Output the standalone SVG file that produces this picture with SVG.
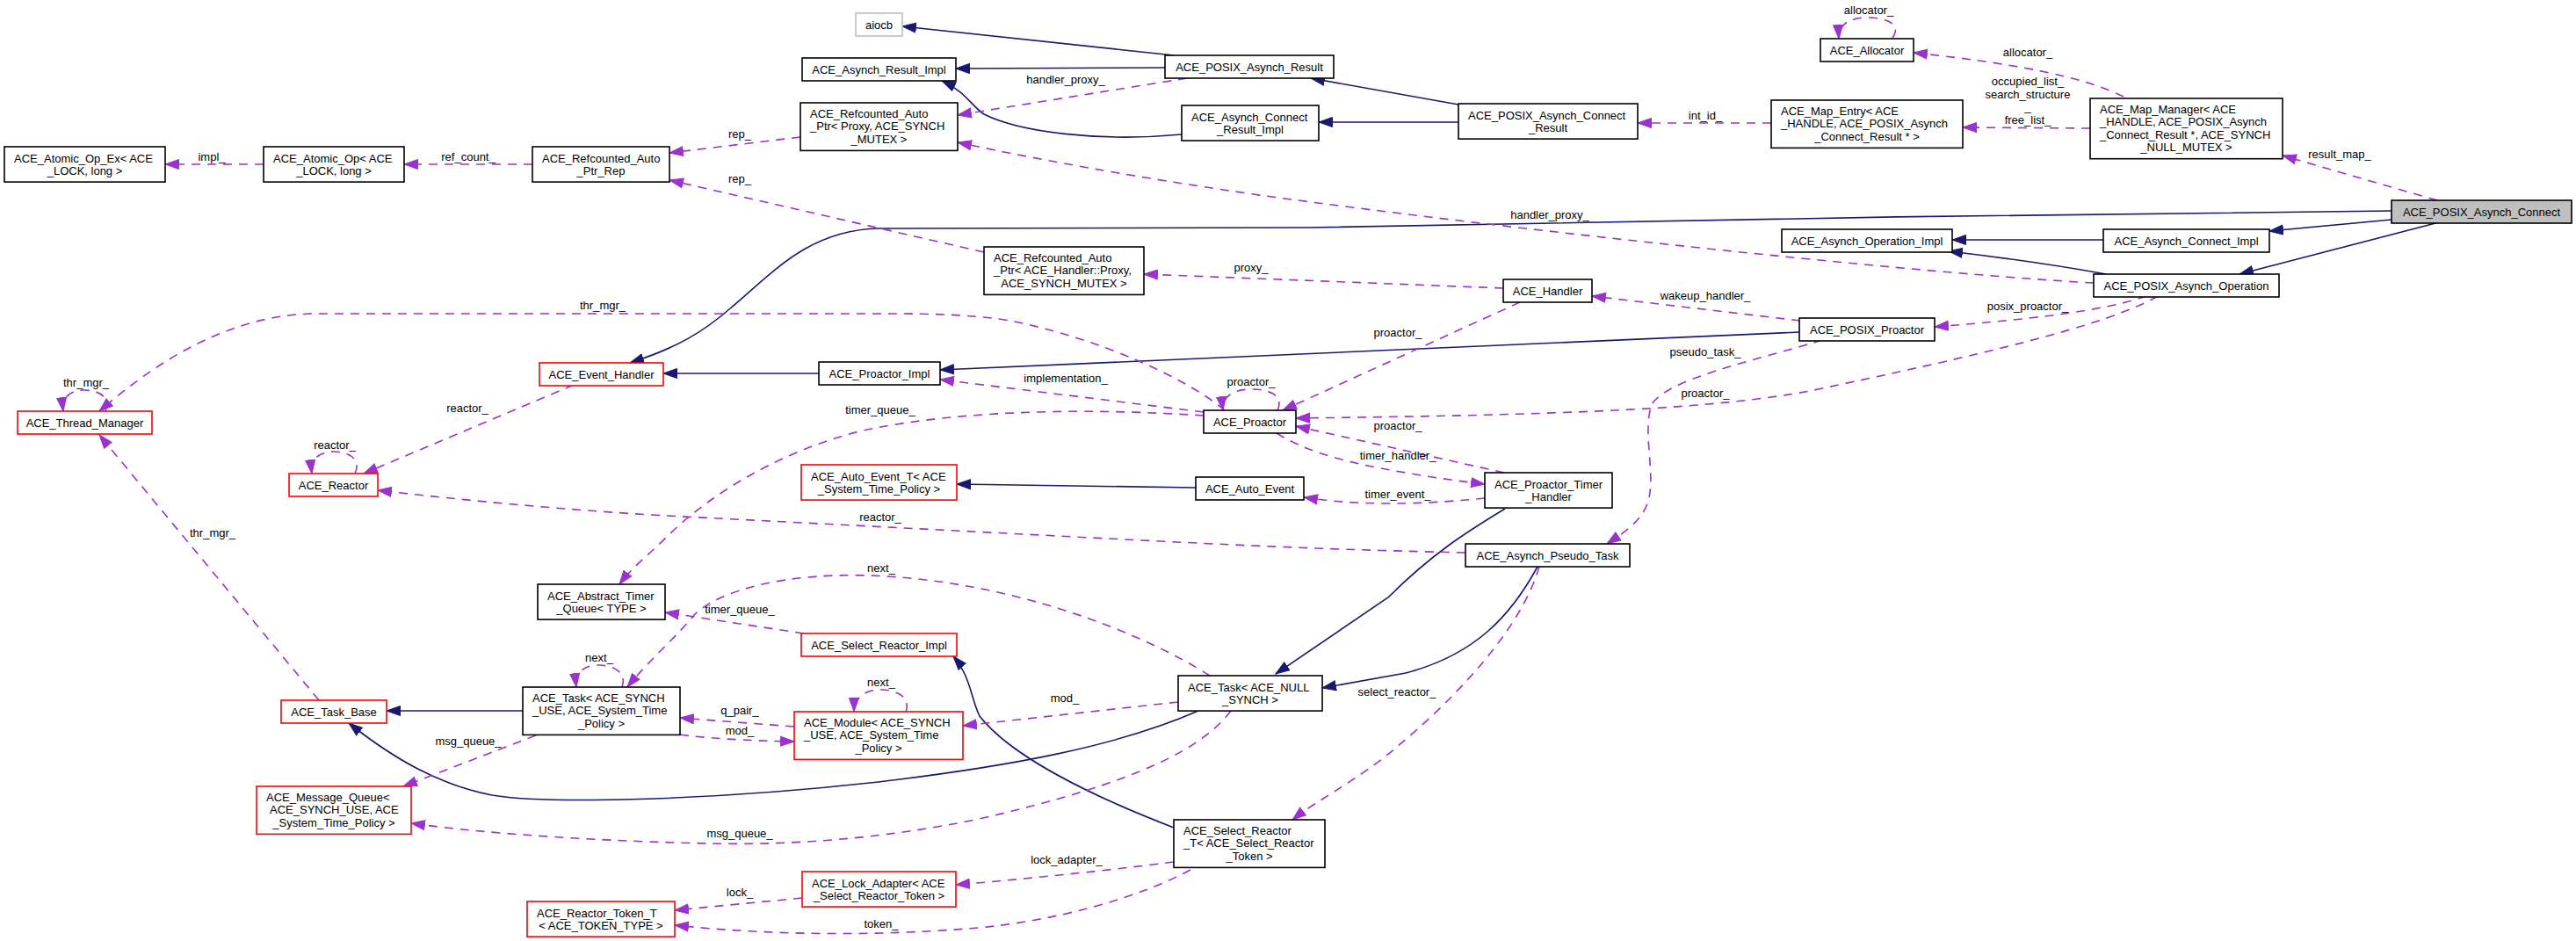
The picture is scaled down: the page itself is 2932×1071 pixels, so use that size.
<svg xmlns="http://www.w3.org/2000/svg" width="2932" height="1071" viewBox="0 0 2932 1071">
<style>
text{font-family:"Liberation Sans",Arial,Helvetica,sans-serif;font-size:13px;fill:#000}
.node rect{fill:#fff;stroke:#000;stroke-width:1.6}
.red rect{stroke:#f00}
.grey rect{stroke:#bfbfbf}
.main rect{fill:#bfbfbf}
.c{text-anchor:middle}
.inh{fill:none;stroke:#191970;stroke-width:1.6;marker-end:url(#ai)}
.use{fill:none;stroke:#9a32cd;stroke-width:1.6;stroke-dasharray:10 8;marker-end:url(#au)}
.el{text-anchor:middle}
</style>
<defs>
<marker id="ai" markerUnits="userSpaceOnUse" markerWidth="17" markerHeight="13" refX="16" refY="6.5" orient="auto"><path d="M0.5,1 L16,6.5 L0.5,12 z" fill="#191970" stroke="#191970" stroke-width="1"/></marker>
<marker id="au" markerUnits="userSpaceOnUse" markerWidth="17" markerHeight="13" refX="16" refY="6.5" orient="auto"><path d="M0.5,1 L16,6.5 L0.5,12 z" fill="#9a32cd" stroke="#9a32cd" stroke-width="1"/></marker>
</defs>
<rect width="2932" height="1071" fill="#fff"/>

<g id="connectors">
<path class="inh" d="M1336,63 L1027,30"/>
<path class="inh" d="M1326,77 L1088,78"/>
<path class="inh" d="M1345,153 C1250,162 1160,150 1120,130 C1105,120 1100,105 1072,92"/>
<path class="inh" d="M1660,119 L1492,89"/>
<path class="inh" d="M1660,139 L1501,139"/>
<path class="inh" d="M2722,240 C2400,242 1700,254 1490,259 L1000,260 C920,262 880,310 830,352 C800,378 770,396 717,413"/>
<path class="inh" d="M2722,250 L2583,263"/>
<path class="inh" d="M2776,253 L2549,312"/>
<path class="inh" d="M2394,273 L2222,273"/>
<path class="inh" d="M2397,312 C2330,300 2270,292 2218,286"/>
<path class="inh" d="M932,425 L755,425"/>
<path class="inh" d="M2048,378 L1070,421"/>
<path class="inh" d="M1361,555 L1089,551"/>
<path class="inh" d="M1713,579 C1670,605 1630,630 1580,680 L1452,767"/>
<path class="inh" d="M1750,645 C1720,700 1680,745 1600,766 L1505,783"/>
<path class="inh" d="M595,809 L440,809"/>
<path class="inh" d="M1364,809 C1270,850 1150,872 1000,890 C800,912 620,915 560,905 C500,893 450,865 397,823"/>
<path class="inh" d="M1336,942 C1240,905 1150,860 1115,815 C1105,795 1105,770 1085,747"/>

<path class="use" d="M300,187 L188,187"/>
<path class="use" d="M606,187 L460,187"/>
<path class="use" d="M911,156 L762,174"/>
<path class="use" d="M1120,287 L762,205"/>
<path class="use" d="M1351,89 L1090,131"/>
<path class="use" d="M2383,322 C2200,312 1800,270 1500,231 C1300,205 1150,175 1090,162"/>
<path class="use" d="M2016,140 L1864,140"/>
<path class="use" d="M2417,110 C2380,92 2320,75 2178,60"/>
<path class="use" d="M2154,43 C2165,28 2148,20 2125,20 C2105,20 2092,28 2093,44"/>
<path class="use" d="M2379,146 L2234,145"/>
<path class="use" d="M2774,228 L2598,177"/>
<path class="use" d="M1711,328 L1302,312"/>
<path class="use" d="M2049,365 L1812,337"/>
<path class="use" d="M2443,337 C2400,352 2330,362 2202,372"/>
<path class="use" d="M2456,337 C2400,370 2250,405 2060,445 C1950,465 1800,472 1475,476"/>
<path class="use" d="M1730,344 L1460,467"/>
<path class="use" d="M1454,467 C1462,450 1445,443 1424,443 C1405,443 1390,451 1392,467"/>
<path class="use" d="M1394,467 C1350,430 1250,385 1150,365 C1100,357 1050,357 1000,357 L354,357 C260,360 180,410 113,468"/>
<path class="use" d="M120,468 C127,452 112,444 96,444 C80,444 70,452 72,468"/>
<path class="use" d="M363,797 L113,495"/>
<path class="use" d="M653,438 L414,539"/>
<path class="use" d="M404,539 C412,522 396,514 380,514 C364,514 353,522 355,539"/>
<path class="use" d="M1668,629 C1550,626 1500,625 1300,615 L740,586 C600,577 500,566 430,558"/>
<path class="use" d="M1370,469 L1070,432"/>
<path class="use" d="M1370,473 C1250,465 1100,465 982,490 C880,515 800,570 760,610 C740,630 720,645 705,665"/>
<path class="use" d="M1453,493 C1480,510 1520,525 1600,538 C1640,545 1665,548 1690,551"/>
<path class="use" d="M1712,538 L1475,485"/>
<path class="use" d="M1690,567 C1640,572 1560,578 1484,566"/>
<path class="use" d="M2074,387 C2000,410 1900,430 1880,460 C1870,490 1882,530 1878,560 C1875,590 1850,605 1829,619"/>
<path class="use" d="M915,721 L757,697"/>
<path class="use" d="M1377,769 C1300,720 1150,660 988,655 C900,652 820,670 790,700 C770,725 740,750 714,782"/>
<path class="use" d="M708,782 C714,765 698,757 681,757 C665,757 654,765 656,782"/>
<path class="use" d="M610,837 L459,895"/>
<path class="use" d="M1401,809 C1370,850 1300,890 1110,933 C1000,955 900,962 810,960 C700,958 560,950 468,937"/>
<path class="use" d="M904,827 L774,817"/>
<path class="use" d="M774,836 C800,840 850,843 904,844"/>
<path class="use" d="M1031,810 C1037,793 1020,785 1003,785 C986,785 972,793 972,810"/>
<path class="use" d="M1341,799 L1096,826"/>
<path class="use" d="M1752,645 C1730,720 1650,800 1590,850 C1550,885 1500,910 1471,933"/>
<path class="use" d="M1336,981 C1250,992 1150,1002 1088,1007"/>
<path class="use" d="M913,1022 L768,1036"/>
<path class="use" d="M1355,990 C1300,1020 1200,1050 1100,1057 C1000,1065 880,1065 768,1053"/>

<text class="el" x="241" y="183">impl_</text>
<text class="el" x="533" y="183">ref_count_</text>
<text class="el" x="842" y="157">rep_</text>
<text class="el" x="842" y="208">rep_</text>
<text class="el" x="1213" y="95">handler_proxy_</text>
<text class="el" x="1764" y="249">handler_proxy_</text>
<text class="el" x="1941" y="136">int_id_</text>
<text class="el" x="2308" y="64">allocator_</text>
<text class="el" x="2127" y="16">allocator_</text>
<text class="el" x="2308" y="97">occupied_list_</text>
<text class="el" x="2308" y="111.5">search_structure</text>
<text class="el" x="2308" y="126">_</text>
<text class="el" x="2308" y="140.5">free_list_</text>
<text class="el" x="2663" y="180">result_map_</text>
<text class="el" x="1424" y="309">proxy_</text>
<text class="el" x="1941" y="341">wakeup_handler_</text>
<text class="el" x="2308" y="353">posix_proactor_</text>
<text class="el" x="1941" y="452">proactor_</text>
<text class="el" x="1591" y="383">proactor_</text>
<text class="el" x="1424" y="439">proactor_</text>
<text class="el" x="686" y="352">thr_mgr_</text>
<text class="el" x="98" y="440">thr_mgr_</text>
<text class="el" x="242" y="611">thr_mgr_</text>
<text class="el" x="532" y="469">reactor_</text>
<text class="el" x="381" y="511">reactor_</text>
<text class="el" x="1002" y="593">reactor_</text>
<text class="el" x="1213" y="435">implementation_</text>
<text class="el" x="1002" y="471">timer_queue_</text>
<text class="el" x="1591" y="523">timer_handler_</text>
<text class="el" x="1591" y="489">proactor_</text>
<text class="el" x="1591" y="567">timer_event_</text>
<text class="el" x="1941" y="405">pseudo_task_</text>
<text class="el" x="842" y="698">timer_queue_</text>
<text class="el" x="1003" y="651">next_</text>
<text class="el" x="682" y="753">next_</text>
<text class="el" x="533" y="848">msg_queue_</text>
<text class="el" x="842" y="953">msg_queue_</text>
<text class="el" x="842" y="813">q_pair_</text>
<text class="el" x="842" y="836">mod_</text>
<text class="el" x="1003" y="781">next_</text>
<text class="el" x="1212" y="799">mod_</text>
<text class="el" x="1590" y="792">select_reactor_</text>
<text class="el" x="1214" y="983">lock_adapter_</text>
<text class="el" x="842" y="1020">lock_</text>
<text class="el" x="1003" y="1056">token_</text>
</g>

<g id="n_aiocb" class="node grey"><rect x="974" y="15" width="53" height="26"/><text class="c" x="1000.5" y="32.6">aiocb</text></g>
<g id="n_asynch_result_impl" class="node"><rect x="913" y="66" width="175" height="26"/><text class="c" x="1000.5" y="83.6">ACE_Asynch_Result_Impl</text></g>
<g id="n_posix_asynch_result" class="node"><rect x="1326" y="63" width="192" height="26"/><text class="c" x="1422" y="80.6">ACE_POSIX_Asynch_Result</text></g>
<g id="n_refcounted_proxy" class="node"><rect x="911" y="117" width="179" height="54.4"/><text x="922" y="134.1">ACE_Refcounted_Auto</text><text x="922" y="148.4">_Ptr&lt; Proxy, ACE_SYNCH</text><text class="c" x="1000.5" y="162.7">_MUTEX &gt;</text></g>
<g id="n_asynch_connect_result_impl" class="node"><rect x="1345" y="120" width="156" height="40.1"/><text x="1356" y="137.5">ACE_Asynch_Connect</text><text class="c" x="1423" y="151.8">_Result_Impl</text></g>
<g id="n_posix_asynch_connect_result" class="node"><rect x="1660" y="118" width="204" height="40.1"/><text x="1671" y="135.5">ACE_POSIX_Asynch_Connect</text><text class="c" x="1762" y="149.8">_Result</text></g>
<g id="n_atomic_op_ex" class="node"><rect x="5" y="167" width="183" height="40.1"/><text x="16" y="184.5">ACE_Atomic_Op_Ex&lt; ACE</text><text class="c" x="96.5" y="198.8">_LOCK, long &gt;</text></g>
<g id="n_atomic_op" class="node"><rect x="300" y="167" width="160" height="40.1"/><text x="311" y="184.5">ACE_Atomic_Op&lt; ACE</text><text class="c" x="380" y="198.8">_LOCK, long &gt;</text></g>
<g id="n_refcounted_rep" class="node"><rect x="606" y="167" width="156" height="40.1"/><text x="617" y="184.5">ACE_Refcounted_Auto</text><text class="c" x="684" y="198.8">_Ptr_Rep</text></g>
<g id="n_allocator" class="node"><rect x="2072" y="44" width="106" height="26"/><text class="c" x="2125" y="61.6">ACE_Allocator</text></g>
<g id="n_map_entry" class="node"><rect x="2016" y="114" width="218" height="54.4"/><text x="2027" y="131.1">ACE_Map_Entry&lt; ACE</text><text x="2027" y="145.4">_HANDLE, ACE_POSIX_Asynch</text><text class="c" x="2125" y="159.7">_Connect_Result * &gt;</text></g>
<g id="n_map_manager" class="node"><rect x="2379" y="112" width="219" height="68.7"/><text x="2390" y="129.1">ACE_Map_Manager&lt; ACE</text><text x="2390" y="143.4">_HANDLE, ACE_POSIX_Asynch</text><text x="2390" y="157.7">_Connect_Result *, ACE_SYNCH</text><text class="c" x="2488.5" y="172">_NULL_MUTEX &gt;</text></g>
<g id="n_posix_asynch_connect" class="node main"><rect x="2722" y="228" width="205" height="26"/><text class="c" x="2824.5" y="245.6">ACE_POSIX_Asynch_Connect</text></g>
<g id="n_asynch_connect_impl" class="node"><rect x="2394" y="261" width="189" height="26"/><text class="c" x="2488.5" y="278.6">ACE_Asynch_Connect_Impl</text></g>
<g id="n_asynch_operation_impl" class="node"><rect x="2028" y="261" width="194" height="26"/><text class="c" x="2125" y="278.6">ACE_Asynch_Operation_Impl</text></g>
<g id="n_posix_asynch_operation" class="node"><rect x="2383" y="312" width="211" height="26"/><text class="c" x="2488.5" y="329.6">ACE_POSIX_Asynch_Operation</text></g>
<g id="n_refcounted_handler_proxy" class="node"><rect x="1120" y="281" width="182" height="54.4"/><text x="1131" y="298.1">ACE_Refcounted_Auto</text><text x="1131" y="312.4">_Ptr&lt; ACE_Handler::Proxy,</text><text class="c" x="1211" y="326.7">ACE_SYNCH_MUTEX &gt;</text></g>
<g id="n_handler" class="node"><rect x="1711" y="318" width="101" height="26"/><text class="c" x="1761.5" y="335.6">ACE_Handler</text></g>
<g id="n_posix_proactor" class="node"><rect x="2048" y="362" width="154" height="26"/><text class="c" x="2125" y="379.6">ACE_POSIX_Proactor</text></g>
<g id="n_thread_manager" class="node red"><rect x="20" y="468" width="153" height="26"/><text class="c" x="96.5" y="485.6">ACE_Thread_Manager</text></g>
<g id="n_event_handler" class="node red"><rect x="614" y="413" width="141" height="26"/><text class="c" x="684.5" y="430.6">ACE_Event_Handler</text></g>
<g id="n_proactor_impl" class="node"><rect x="932" y="412" width="138" height="26"/><text class="c" x="1001" y="429.6">ACE_Proactor_Impl</text></g>
<g id="n_proactor" class="node"><rect x="1370" y="467" width="105" height="26"/><text class="c" x="1422.5" y="484.6">ACE_Proactor</text></g>
<g id="n_reactor" class="node red"><rect x="329" y="539" width="101" height="26"/><text class="c" x="379.5" y="556.6">ACE_Reactor</text></g>
<g id="n_auto_event_t" class="node red"><rect x="912" y="529" width="177" height="40.1"/><text x="923" y="546.5">ACE_Auto_Event_T&lt; ACE</text><text class="c" x="1000.5" y="560.8">_System_Time_Policy &gt;</text></g>
<g id="n_auto_event" class="node"><rect x="1361" y="543" width="123" height="26"/><text class="c" x="1422.5" y="560.6">ACE_Auto_Event</text></g>
<g id="n_proactor_timer_handler" class="node"><rect x="1690" y="538" width="145" height="40.1"/><text x="1701" y="555.5">ACE_Proactor_Timer</text><text class="c" x="1762.5" y="569.8">_Handler</text></g>
<g id="n_asynch_pseudo_task" class="node"><rect x="1668" y="619" width="187" height="26"/><text class="c" x="1761.5" y="636.6">ACE_Asynch_Pseudo_Task</text></g>
<g id="n_abstract_timer_queue" class="node"><rect x="612" y="665" width="145" height="40.1"/><text x="623" y="682.5">ACE_Abstract_Timer</text><text class="c" x="684.5" y="696.8">_Queue&lt; TYPE &gt;</text></g>
<g id="n_select_reactor_impl" class="node red"><rect x="912" y="721" width="177" height="26"/><text class="c" x="1000.5" y="738.6">ACE_Select_Reactor_Impl</text></g>
<g id="n_task_base" class="node red"><rect x="320" y="797" width="120" height="26"/><text class="c" x="380" y="814.6">ACE_Task_Base</text></g>
<g id="n_task_synch_use" class="node"><rect x="595" y="782" width="179" height="54.4"/><text x="606" y="799.1">ACE_Task&lt; ACE_SYNCH</text><text x="606" y="813.4">_USE, ACE_System_Time</text><text class="c" x="684.5" y="827.7">_Policy &gt;</text></g>
<g id="n_module" class="node red"><rect x="904" y="810" width="192" height="54.4"/><text x="915" y="827.1">ACE_Module&lt; ACE_SYNCH</text><text x="915" y="841.4">_USE, ACE_System_Time</text><text class="c" x="1000" y="855.7">_Policy &gt;</text></g>
<g id="n_task_null_synch" class="node"><rect x="1341" y="769" width="164" height="40.1"/><text x="1352" y="786.5">ACE_Task&lt; ACE_NULL</text><text class="c" x="1423" y="800.8">_SYNCH &gt;</text></g>
<g id="n_message_queue" class="node red"><rect x="292" y="895" width="176" height="54.4"/><text x="303" y="912.1">ACE_Message_Queue&lt;</text><text x="307" y="926.4">ACE_SYNCH_USE, ACE</text><text class="c" x="380" y="940.7">_System_Time_Policy &gt;</text></g>
<g id="n_select_reactor_t" class="node"><rect x="1336" y="933" width="172" height="54.4"/><text x="1347" y="950.1">ACE_Select_Reactor</text><text x="1347" y="964.4">_T&lt; ACE_Select_Reactor</text><text class="c" x="1422" y="978.7">_Token &gt;</text></g>
<g id="n_lock_adapter" class="node red"><rect x="913" y="992" width="175" height="40.1"/><text x="924" y="1009.5">ACE_Lock_Adapter&lt; ACE</text><text class="c" x="1000.5" y="1023.8">_Select_Reactor_Token &gt;</text></g>
<g id="n_reactor_token_t" class="node red"><rect x="600" y="1026" width="168" height="40.1"/><text x="611" y="1043.5">ACE_Reactor_Token_T</text><text class="c" x="684" y="1057.8">&lt; ACE_TOKEN_TYPE &gt;</text></g>
</svg>
